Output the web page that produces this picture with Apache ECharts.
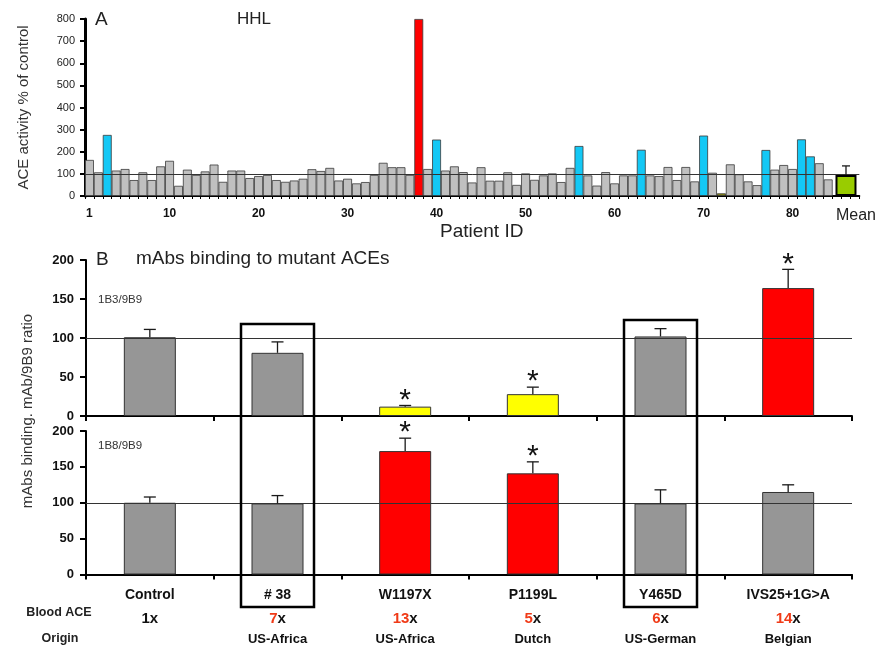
<!DOCTYPE html>
<html>
<head>
<meta charset="utf-8">
<title>ACE activity / mAbs binding</title>
<script src="https://cdn.jsdelivr.net/npm/echarts@6/dist/echarts.min.js"></script>
<style>
html, body { margin: 0; padding: 0; background: #fff; }
#main { width: 879px; height: 646px; }
</style>
</head>
<body>
<div id="main"></div>
<script>
// A - ACE activity of HHL patients, % of control
var aceActivity = [163, 107, 276, 115, 122, 72, 107, 72, 134, 159,
    46, 119, 95, 111, 142, 64, 115, 115, 81, 90,
    95, 72, 64, 70, 78, 121, 113, 127, 70, 78,
    57, 63, 95, 150, 130, 130, 95, 800, 122, 255,
    115, 134, 108, 61, 130, 69, 69, 107, 50, 102,
    73, 93, 102, 63, 127, 226, 93, 47, 108, 57,
    93, 93, 209, 93, 90, 131, 72, 131, 66, 273,
    105, 12, 143, 98, 66, 49, 208, 119, 140, 122,
    256, 179, 148, 75];
var cyanPatients = [3, 40, 56, 63, 70, 77, 81, 82];
var redPatients = [38];
var olivePatients = [72];
var meanActivity = 95;
var meanError = 41;
var patientTicks = ['1', '10', '20', '30', '40', '50', '60', '70', '80'];

// B - mAbs binding to mutant ACEs
var mutants = ['Control', '# 38', 'W1197X', 'P1199L', 'Y465D', 'IVS25+1G>A'];
var bloodAce = [1, 7, 13, 5, 6, 14];
var origins = ['', 'US-Africa', 'US-Africa', 'Dutch', 'US-German', 'Belgian'];
var ratio1B3 = [101, 81, 12, 28, 102, 164];
var err1B3 = [10, 14, 1.5, 9, 10, 24];
var sig1B3 = [0, 0, 1, 1, 0, 1];
var ratio1B8 = [100, 99, 172, 141, 99, 115];
var err1B8 = [8, 11, 18, 16, 19, 10];
var sig1B8 = [0, 0, 1, 1, 0, 0];
var boxedMutants = ['# 38', 'Y465D'];

var FONT = 'Liberation Sans, Arial, sans-serif';

// categories for A: patients, a gap, the mean, a gap
var patientCats = aceActivity.map(function (v, i) { return String(i + 1); });
var catsA = patientCats.concat(['', 'Mean', '']);

var patientBars = aceActivity.map(function (v, i) {
    var id = i + 1;
    var c = '#c0c0c0';
    if (cyanPatients.indexOf(id) >= 0) c = '#14c8f5';
    if (redPatients.indexOf(id) >= 0) c = '#ff0000';
    if (olivePatients.indexOf(id) >= 0) c = '#8c8c14';
    return { value: v, itemStyle: { color: c } };
});

function colorB(v, s) {
    if (!s) return '#969696';
    return v < 100 ? '#ffff00' : '#ff0000';
}

function barsB(vals, sig) {
    return vals.map(function (v, i) {
        return { value: v, itemStyle: { color: colorB(v, sig[i]) } };
    });
}

function errData(vals, errs, sig) {
    return vals.map(function (v, i) { return [i, v, errs[i], sig[i]]; });
}

function errorBar(capHalf) {
    return function (params, api) {
        var v = api.value(1);
        var base = api.coord([api.value(0), v]);
        var top = api.coord([api.value(0), v + api.value(2)]);
        var st = { stroke: '#1a1a1a', lineWidth: 1.3 };
        var kids = [
            { type: 'line', shape: { x1: base[0], y1: base[1], x2: top[0], y2: top[1] }, style: st },
            { type: 'line', shape: { x1: top[0] - capHalf, y1: top[1], x2: top[0] + capHalf, y2: top[1] }, style: st }
        ];
        if (api.value(3)) {
            kids.push({
                type: 'text', x: top[0], y: top[1] - 5,
                style: { text: '*', fill: '#111', fontSize: 30, fontFamily: FONT, align: 'center', verticalAlign: 'middle' }
            });
        }
        return { type: 'group', children: kids };
    };
}

var refLine = {
    silent: true, symbol: 'none', label: { show: false },
    lineStyle: { color: '#333', width: 1, type: 'solid' },
    data: [{ yAxis: 100 }]
};

var chart = echarts.init(document.getElementById('main'));
var option = {
    animation: false,
    textStyle: { fontFamily: FONT },
    grid: [
        { left: 85, top: 19, width: 775, height: 177 },
        { left: 86, top: 260, width: 766, height: 156 },
        { left: 86, top: 431, width: 766, height: 144 }
    ],
    xAxis: [
        {
            gridIndex: 0, type: 'category', data: catsA,
            axisLine: { lineStyle: { color: '#000', width: 2 } },
            axisTick: { show: true, interval: 0, length: 3, lineStyle: { color: '#000' } },
            axisLabel: {
                interval: function (idx, val) { return patientTicks.indexOf(val) >= 0 || val === 'Mean'; },
                margin: 12, fontSize: 12, fontWeight: 'bold', color: '#111',
                formatter: function (val) { return val === 'Mean' ? '{m|Mean}' : val; },
                rich: { m: { fontSize: 16, fontWeight: 'normal', color: '#222', padding: [0, 0, 0, 20] } }
            }
        },
        { gridIndex: 0, type: 'category', data: catsA, show: false },
        {
            gridIndex: 1, type: 'category', data: mutants,
            axisLine: { lineStyle: { color: '#000', width: 2 } },
            axisTick: { show: true, length: 5, lineStyle: { color: '#000', width: 2 } },
            axisLabel: { show: false }
        },
        {
            gridIndex: 2, type: 'category', data: mutants,
            axisLine: { lineStyle: { color: '#000', width: 2 } },
            axisTick: { show: true, length: 5, lineStyle: { color: '#000', width: 2 } },
            axisLabel: {
                interval: 0, margin: 10, color: '#111',
                formatter: function (val, i) {
                    var fold = bloodAce[i] > 1 ? '{r|' + bloodAce[i] + '}{k|x}' : '{k|' + bloodAce[i] + 'x}';
                    return '{n|' + val + '}\n' + fold + '\n{o|' + (origins[i] || ' ') + '}';
                },
                rich: {
                    n: { fontSize: 14, fontWeight: 'bold', color: '#111', lineHeight: 22 },
                    r: { fontSize: 15, fontWeight: 'bold', color: '#f03a17', lineHeight: 25 },
                    k: { fontSize: 15, fontWeight: 'bold', color: '#111', lineHeight: 25 },
                    o: { fontSize: 13, fontWeight: 'bold', color: '#111', lineHeight: 16 }
                }
            }
        }
    ],
    yAxis: [
        {
            gridIndex: 0, type: 'value', min: 0, max: 800, interval: 100,
            name: 'ACE activity % of control', nameLocation: 'middle', nameGap: 54,
            nameTextStyle: { fontSize: 15, color: '#333' },
            axisLine: { show: true, lineStyle: { color: '#000', width: 3 } },
            axisTick: { show: true, length: 5, lineStyle: { color: '#000', width: 2 } },
            axisLabel: { fontSize: 11, color: '#222', margin: 10 },
            splitLine: { show: false }
        },
        {
            gridIndex: 1, type: 'value', min: 0, max: 200, interval: 50,
            axisLine: { show: true, lineStyle: { color: '#000', width: 2 } },
            axisTick: { show: true, length: 6, lineStyle: { color: '#000', width: 2 } },
            axisLabel: { fontSize: 13, fontWeight: 'bold', color: '#111', margin: 12 },
            splitLine: { show: false }
        },
        {
            gridIndex: 2, type: 'value', min: 0, max: 200, interval: 50,
            axisLine: { show: true, lineStyle: { color: '#000', width: 2 } },
            axisTick: { show: true, length: 6, lineStyle: { color: '#000', width: 2 } },
            axisLabel: { fontSize: 13, fontWeight: 'bold', color: '#111', margin: 12 },
            splitLine: { show: false }
        }
    ],
    series: [
        {
            type: 'bar', xAxisIndex: 0, yAxisIndex: 0, data: patientBars,
            barCategoryGap: '0%',
            itemStyle: { borderColor: '#3a3a3a', borderWidth: 0.8 },
            markLine: refLine
        },
        {
            type: 'bar', xAxisIndex: 1, yAxisIndex: 0, barWidth: 21,
            data: [['Mean', meanActivity]],
            itemStyle: { color: '#99cc00', borderColor: '#000', borderWidth: 2 }
        },
        {
            type: 'custom', xAxisIndex: 1, yAxisIndex: 0, z: 5,
            renderItem: errorBar(4), encode: { x: 0, y: 1 },
            data: [[catsA.indexOf('Mean'), meanActivity, meanError, 0]]
        },
        {
            type: 'bar', xAxisIndex: 2, yAxisIndex: 1, barWidth: 52,
            data: barsB(ratio1B3, sig1B3),
            itemStyle: { borderColor: '#333', borderWidth: 1 },
            markLine: refLine
        },
        {
            type: 'custom', xAxisIndex: 2, yAxisIndex: 1, z: 5,
            renderItem: errorBar(6), encode: { x: 0, y: 1 },
            data: errData(ratio1B3, err1B3, sig1B3)
        },
        {
            type: 'bar', xAxisIndex: 3, yAxisIndex: 2, barWidth: 52,
            data: barsB(ratio1B8, sig1B8),
            itemStyle: { borderColor: '#333', borderWidth: 1 },
            markLine: refLine
        },
        {
            type: 'custom', xAxisIndex: 3, yAxisIndex: 2, z: 5,
            renderItem: errorBar(6), encode: { x: 0, y: 1 },
            data: errData(ratio1B8, err1B8, sig1B8)
        }
    ]
};
chart.setOption(option);

// annotations and boxes around the mutants discussed in the text
var boxTops = [324, 320];
var graphics = [
    { type: 'text', left: 95, top: 10, style: { text: 'A', fontSize: 19, fill: '#222', fontFamily: FONT } },
    { type: 'text', left: 237, top: 11, style: { text: 'HHL', fontSize: 17, fill: '#222', fontFamily: FONT } },
    { type: 'text', left: 440, top: 222, style: { text: 'Patient ID', fontSize: 19, fill: '#222', fontFamily: FONT } },
    { type: 'text', left: 96, top: 250, style: { text: 'B', fontSize: 19, fill: '#222', fontFamily: FONT } },
    { type: 'text', left: 136, top: 249, style: { text: 'mAbs binding to mutant ACEs', fontSize: 19, fill: '#222', fontFamily: FONT } },
    { type: 'text', left: 98, top: 294, style: { text: '1B3/9B9', fontSize: 11.5, fill: '#333', fontFamily: FONT } },
    { type: 'text', left: 98, top: 440, style: { text: '1B8/9B9', fontSize: 11.5, fill: '#333', fontFamily: FONT } },
    { type: 'text', x: 59, y: 613, style: { text: 'Blood ACE', fontSize: 12.5, fontWeight: 'bold', fill: '#222', fontFamily: FONT, align: 'center', verticalAlign: 'middle' } },
    { type: 'text', x: 60, y: 639, style: { text: 'Origin', fontSize: 12.5, fontWeight: 'bold', fill: '#222', fontFamily: FONT, align: 'center', verticalAlign: 'middle' } },
    { type: 'text', x: 28, y: 411, rotation: Math.PI / 2, style: { text: 'mAbs binding. mAb/9B9 ratio', fontSize: 15, fill: '#333', fontFamily: FONT, align: 'center', verticalAlign: 'middle' } }
];
boxedMutants.forEach(function (name, k) {
    var cx = chart.convertToPixel({ xAxisIndex: 3 }, name);
    graphics.push({
        type: 'rect', z: 10,
        shape: { x: cx - 36.5, y: boxTops[k], width: 73, height: 607 - boxTops[k] },
        style: { fill: 'none', stroke: '#000', lineWidth: 2.5 }
    });
});
chart.setOption({ graphic: graphics });
</script>
</body>
</html>
